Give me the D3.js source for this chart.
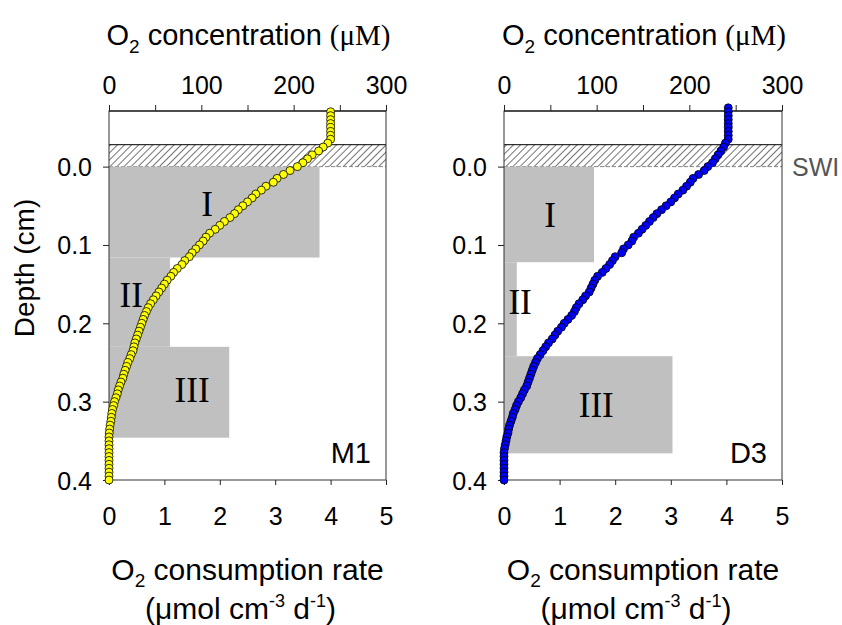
<!DOCTYPE html>
<html><head><meta charset="utf-8">
<script src="https://cdn.jsdelivr.net/npm/d3@7"></script>
<style>body{margin:0;background:#fff}svg{display:block}</style>
</head><body>
<svg id="c" width="842" height="625"></svg>
<script>
// ---------- DATA ----------
const depthM1 = [-0.070,-0.065,-0.060,-0.055,-0.050,-0.045,-0.040,-0.035,-0.030,-0.025,-0.020,-0.015,-0.010,-0.005,
 0.000,0.005,0.010,0.015,0.020,0.025,0.030,0.035,0.040,0.045,0.050,0.055,0.060,0.065,0.070,0.075,0.080,0.085,0.090,0.095,
 0.100,0.105,0.110,0.115,0.120,0.125,0.130,0.135,0.140,0.145,0.150,0.155,0.160,0.165,0.170,0.175,0.180,0.185,0.190,0.195,
 0.200,0.205,0.210,0.215,0.220,0.225,0.230,0.235,0.240,0.245,0.250,0.255,0.260,0.265,0.270,0.275,0.280,0.285,0.290,0.295,
 0.300,0.305,0.310,0.315,0.320,0.325,0.330,0.335,0.340,0.345,0.350,0.355,0.360,0.365,0.370,0.375,0.380,0.385,0.390,0.395,0.400];
const o2M1 = [240,240,240,240,240,240,240,240,237,232,227,220,215,210,
 204,196,189,182,178,170,165,159,155,150,145,140,136,131,125,120,115,109,105,102,
 98,94,90,87,82,79,74,70,67,63,60,57,54,51,48,45,42.5,40.5,38.5,37,
 35.5,34,32.5,31,29.5,28,27,26,24,22.5,20.5,19,17.5,16,15,13,11.5,10,9,7.5,
 6,5,3.8,3,2.5,2,1.2,0.7,0.3,0,0,0,0,0,0,0,0,0,0,0,0];

const depthD3 = [-0.075,-0.070,-0.065,-0.060,-0.055,-0.050,-0.045,-0.040,-0.035,-0.030,-0.025,-0.020,-0.015,-0.010,-0.005,
 0.000,0.005,0.010,0.015,0.020,0.025,0.030,0.035,0.040,0.045,0.050,0.055,0.060,0.065,0.070,0.075,0.080,0.085,0.090,0.095,
 0.100,0.105,0.110,0.115,0.120,0.125,0.130,0.135,0.140,0.145,0.150,0.155,0.160,0.165,0.170,0.175,0.180,0.185,0.190,0.195,
 0.200,0.205,0.210,0.215,0.220,0.225,0.230,0.235,0.240,0.245,0.250,0.255,0.260,0.265,0.270,0.275,0.280,0.285,0.290,0.295,
 0.300,0.305,0.310,0.315,0.320,0.325,0.330,0.335,0.340,0.345,0.350,0.355,0.360,0.365,0.370,0.375,0.380,0.385,0.390,0.395,0.400];
const o2D3 = [242,242,242,242,242,242,242,242,242,239,237,234,231,228,225,
 220,216,210,204,201,197,193,188,184,180,175,170,165,161,157,153,149,145,140,138,
 134,129,127,120,117,114,110,106,101,98,96,94,92,88,85,81,78,76,73,69,
 65,62,58,55,52,48,45,42,39,36,34,32,30.5,29,27.5,26,24.5,22,20,18,
 15.5,13.5,12,10,9,7.5,6,5,4.3,3,2.2,1.3,0.5,0,0,0,0,0,0,0,0];

// consumption-rate zones
const zoneNames = ["I","II","III"];
const zoneRateM1 = [3.8, 1.1, 2.17];
const zoneTopM1 = [0.0, 0.116, 0.23];
const zoneBotM1 = [0.116, 0.23, 0.346];
const zoneRateD3 = [1.62, 0.23, 3.03];
const zoneTopD3 = [0.0, 0.122, 0.242];
const zoneBotD3 = [0.122, 0.242, 0.366];
// zone label anchors (rate, depth)
const labRateM1 = [1.77, 0.40, 1.50];
const labDepthM1 = [0.063, 0.179, 0.300];
const labRateD3 = [0.83, 0.29, 1.66];
const labDepthD3 = [0.077, 0.188, 0.319];

const swiTop = -0.028, swiBot = 0.0;
const concTicks = [0,50,100,150,200,250,300];
const concLabels = [0,100,200,300];
const rateTicks = [0,1,2,3,4,5];
const depthTicks = [0,0.1,0.2,0.3,0.4];
const depthDomain = [-0.071, 0.4];
const stations = ["M1","D3"];

// ---------- DRAW ----------
const svg = d3.select("#c");
const SANS = "'Liberation Sans', Arial, sans-serif";
const SERIF = "'Liberation Serif', 'Times New Roman', serif";

const defs = svg.append("defs");
const pat = defs.append("pattern").attr("id","hatch").attr("patternUnits","userSpaceOnUse")
  .attr("width",5).attr("height",5).attr("patternTransform","rotate(45)");
pat.append("line").attr("x1",0).attr("y1",0).attr("x2",0).attr("y2",5)
  .attr("stroke","#000").attr("stroke-width",1.1);

const panels = [
  {name:stations[0], x0:109, x1:386, depth:depthM1, o2:o2M1, fill:"#ffff00",
   zr:zoneRateM1, zt:zoneTopM1, zb:zoneBotM1, lr:labRateM1, ld:labDepthM1},
  {name:stations[1], x0:504, x1:782, depth:depthD3, o2:o2D3, fill:"#0000ff",
   zr:zoneRateD3, zt:zoneTopD3, zb:zoneBotD3, lr:labRateD3, ld:labDepthD3}
];

const yTop = 111, yBot = 480;
const y = d3.scaleLinear().domain(depthDomain).range([yTop, yBot]);

panels.forEach((p, pi) => {
  const xc = d3.scaleLinear().domain([0,300]).range([p.x0, p.x1]);
  const xr = d3.scaleLinear().domain([0,5]).range([p.x0, p.x1]);
  const g = svg.append("g");

  // SWI hatch
  g.append("rect").attr("x",p.x0).attr("y",y(swiTop)).attr("width",p.x1-p.x0)
   .attr("height",y(swiBot)-y(swiTop)).attr("fill","url(#hatch)");
  g.append("line").attr("x1",p.x0).attr("x2",p.x1).attr("y1",y(swiTop)).attr("y2",y(swiTop))
   .attr("stroke","#000").attr("stroke-width",1);
  g.append("line").attr("x1",p.x0).attr("x2",p.x1).attr("y1",y(swiBot)).attr("y2",y(swiBot))
   .attr("stroke","#888").attr("stroke-width",1).attr("stroke-dasharray","4,2");

  // zones
  zoneNames.forEach((z,i) => {
    g.append("rect").attr("x",xr(0)).attr("y",y(p.zt[i]))
      .attr("width",xr(p.zr[i])-xr(0)).attr("height",y(p.zb[i])-y(p.zt[i]))
      .attr("fill","#c0c0c0");
  });
  zoneNames.forEach((z,i) => {
    g.append("text").attr("x",xr(p.lr[i])).attr("y",y(p.ld[i]))
      .attr("text-anchor","middle").attr("font-family",SERIF).attr("font-size",35)
      .attr("fill","#000").text(z);
  });

  // frame
  g.append("rect").attr("x",p.x0).attr("y",yTop).attr("width",p.x1-p.x0).attr("height",yBot-yTop)
   .attr("fill","none").attr("stroke","#333").attr("stroke-width",1);
  g.append("line").attr("x1",p.x0).attr("x2",p.x1).attr("y1",yTop).attr("y2",yTop)
   .attr("stroke","#000").attr("stroke-width",1.2);

  // axes
  const top = g.append("g").attr("transform",`translate(0,${yTop})`)
    .call(d3.axisTop(xc).tickValues(concTicks).tickSize(6).tickSizeOuter(0)
      .tickFormat(d => concLabels.includes(d) ? d : ""));
  const bot = g.append("g").attr("transform",`translate(0,${yBot})`)
    .call(d3.axisBottom(xr).tickValues(rateTicks).tickSize(5).tickSizeOuter(0).tickFormat(d3.format("d")));
  const left = g.append("g").attr("transform",`translate(${p.x0},0)`)
    .call(d3.axisLeft(y).tickValues(depthTicks).tickSize(6).tickSizeOuter(0).tickFormat(d3.format(".1f")));
  [top,bot,left].forEach(a => {
    a.select(".domain").remove();
    a.selectAll("line").attr("stroke","#222");
    a.selectAll("text").attr("font-family",SANS).attr("font-size",25).attr("fill","#000");
  });
  top.selectAll("text").attr("dy",null).attr("y",-17);
  bot.selectAll("text").attr("dy",null).attr("y",45);
  left.selectAll("text").attr("x",-17).attr("dy","0.36em");

  // profile
  const pts = p.depth.map((d,i) => [p.o2[i], d]);
  g.append("path").datum(pts)
   .attr("d", d3.line().x(d=>xc(d[0])).y(d=>y(d[1])))
   .attr("fill","none").attr("stroke","#000").attr("stroke-width",1);
  g.selectAll("circle.pt").data(pts).join("circle").attr("class","pt")
   .attr("cx",d=>xc(d[0])).attr("cy",d=>y(d[1])).attr("r",4)
   .attr("fill",p.fill).attr("stroke","#000").attr("stroke-width",0.8);

  // station label
  g.append("text").attr("x",p.x1-15).attr("y",463).attr("text-anchor","end")
   .attr("font-family",SANS).attr("font-size",29).text(p.name);

  // top title
  const cx = (p.x0+p.x1)/2;
  const tt = g.append("text").attr("x",cx+1).attr("y",45).attr("text-anchor","middle")
    .attr("font-family",SANS).attr("font-size",29);
  tt.append("tspan").text("O");
  tt.append("tspan").attr("font-size",19).attr("dy",8).text("2");
  tt.append("tspan").attr("dy",-8).text(" concentration ");
  tt.append("tspan").attr("font-family",SERIF).text("(\u03BCM)");

  // bottom titles
  const b1 = g.append("text").attr("x",cx).attr("y",580).attr("text-anchor","middle")
    .attr("font-family",SANS).attr("font-size",30);
  b1.append("tspan").text("O");
  b1.append("tspan").attr("font-size",19).attr("dy",7).text("2");
  b1.append("tspan").attr("dy",-7).text(" consumption rate");
  const b2 = g.append("text").attr("x",cx-7).attr("y",619).attr("text-anchor","middle")
    .attr("font-family",SANS).attr("font-size",30);
  b2.append("tspan").text("(\u03BCmol cm");
  b2.append("tspan").attr("font-size",18).attr("dy",-12).text("-3");
  b2.append("tspan").attr("dy",12).text(" d");
  b2.append("tspan").attr("font-size",18).attr("dy",-12).text("-1");
  b2.append("tspan").attr("dy",12).text(")");
});

// SWI label
svg.append("text").attr("x",792).attr("y",y(0)+9).attr("font-family",SANS)
  .attr("font-size",25).attr("fill","#555").text("SWI");

// y title
svg.append("text").attr("transform","translate(34,268) rotate(-90)").attr("text-anchor","middle")
  .attr("font-family",SANS).attr("font-size",28).text("Depth (cm)");
</script>
</body></html>
